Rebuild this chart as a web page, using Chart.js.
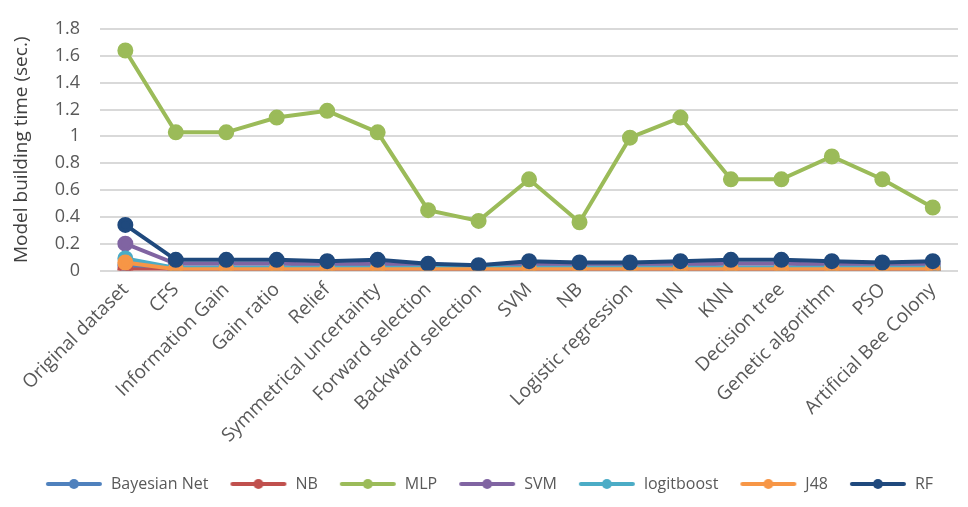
<!DOCTYPE html>
<html>
<head>
<meta charset="utf-8">
<script src="https://cdn.jsdelivr.net/npm/chart.js@4.4.0/dist/chart.umd.min.js"></script>
<style>
  html, body { margin: 0; padding: 0; background: #fff; }
  #wrap { width: 968px; height: 507px; }
</style>
</head>
<body>
<div id="wrap"><canvas id="chart1"></canvas></div>
<script>
const categories = [
  'Original dataset', 'CFS', 'Information Gain', 'Gain ratio', 'Relief',
  'Symmetrical uncertainty', 'Forward selection', 'Backward selection', 'SVM', 'NB',
  'Logistic regression', 'NN', 'KNN', 'Decision tree', 'Genetic algorithm', 'PSO',
  'Artificial Bee Colony'
];

const bayesNet   = [0.04, 0.01, 0.01, 0.01, 0.01, 0.01, 0.01, 0.01, 0.01, 0.01, 0.01, 0.01, 0.01, 0.01, 0.01, 0.01, 0.01];
const nb         = [0.01, 0.005, 0.005, 0.005, 0.005, 0.005, 0.005, 0.005, 0.005, 0.005, 0.005, 0.005, 0.005, 0.005, 0.005, 0.005, 0.005];
const mlp        = [1.64, 1.03, 1.03, 1.14, 1.19, 1.03, 0.45, 0.37, 0.68, 0.36, 0.99, 1.14, 0.68, 0.68, 0.85, 0.68, 0.47];
const svm        = [0.20, 0.05, 0.05, 0.05, 0.045, 0.05, 0.035, 0.03, 0.045, 0.04, 0.04, 0.045, 0.05, 0.05, 0.045, 0.04, 0.045];
const logitboost = [0.09, 0.02, 0.02, 0.02, 0.02, 0.02, 0.02, 0.02, 0.02, 0.02, 0.02, 0.02, 0.02, 0.02, 0.02, 0.02, 0.02];
const j48        = [0.06, 0.01, 0.01, 0.01, 0.01, 0.01, 0.01, 0.01, 0.01, 0.01, 0.01, 0.01, 0.01, 0.01, 0.01, 0.01, 0.01];
const rf         = [0.34, 0.08, 0.08, 0.08, 0.07, 0.08, 0.05, 0.04, 0.07, 0.06, 0.06, 0.07, 0.08, 0.08, 0.07, 0.06, 0.07];

const yTicks = [0, 0.2, 0.4, 0.6, 0.8, 1, 1.2, 1.4, 1.6, 1.8];

const series = [
  { label: 'Bayesian Net', data: bayesNet,   color: '#4f81bd' },
  { label: 'NB',           data: nb,         color: '#c0504d' },
  { label: 'MLP',          data: mlp,        color: '#9bbb59' },
  { label: 'SVM',          data: svm,        color: '#8064a2' },
  { label: 'logitboost',   data: logitboost, color: '#4bacc6' },
  { label: 'J48',          data: j48,        color: '#f79646' },
  { label: 'RF',           data: rf,         color: '#1f497d' }
];

const FONT = "'Open Sans', 'Noto Sans', sans-serif";

// little line-with-dot image for the legend
function legendMark(color) {
  const c = document.createElement('canvas');
  c.width = 58; c.height = 14;
  const g = c.getContext('2d');
  g.strokeStyle = color;
  g.lineWidth = 4;
  g.lineCap = 'round';
  g.beginPath();
  g.moveTo(3, 7); g.lineTo(55, 7);
  g.stroke();
  g.fillStyle = color;
  g.beginPath();
  g.arc(29, 7, 5, 0, Math.PI * 2);
  g.fill();
  return c;
}

const datasets = series.map((s, i) => ({
  label: s.label,
  data: s.data,
  borderColor: s.color,
  backgroundColor: s.color,
  pointBackgroundColor: s.color,
  pointBorderColor: s.color,
  borderWidth: 4,
  pointRadius: 6,
  pointHoverRadius: 6,
  tension: 0,
  order: series.length - 1 - i,
  mark: legendMark(s.color)
}));

const config1 = {
  type: 'line',
  data: { labels: categories, datasets: datasets },
  options: {
    responsive: false,
    animation: false,
    layout: { padding: { top: 4, right: 0, left: 10, bottom: 5 } },
    plugins: {
      legend: {
        position: 'bottom',
        labels: {
          usePointStyle: true,
          pointStyleWidth: 58,
          boxHeight: 14,
          padding: 21,
          color: '#595959',
          font: { family: FONT, size: 16 },
          generateLabels: function(chart) {
            return chart.data.datasets.map((ds, i) => ({
              text: ds.label,
              fillStyle: ds.borderColor,
              strokeStyle: ds.borderColor,
              lineWidth: 0,
              pointStyle: ds.mark,
              hidden: !chart.isDatasetVisible(i),
              datasetIndex: i,
              fontColor: '#595959'
            }));
          }
        }
      },
      tooltip: { enabled: false }
    },
    scales: {
      x: {
        offset: true,
        grid: { display: false, drawTicks: false },
        border: { display: false },
        ticks: {
          color: '#595959',
          font: { family: FONT, size: 19 },
          minRotation: 45,
          maxRotation: 45,
          autoSkip: false,
          padding: 8
        }
      },
      y: {
        min: 0,
        max: 1.8,
        afterBuildTicks: function(axis) {
          axis.ticks = yTicks.map(v => ({ value: v }));
        },
        grid: { color: '#d9d9d9', lineWidth: 2, drawTicks: false },
        border: { display: false },
        ticks: {
          color: '#595959',
          font: { family: FONT, size: 18, lineHeight: 1 },
          padding: 20,
          callback: v => String(Number(v.toFixed(1)))
        },
        title: {
          display: true,
          text: 'Model building time (sec.)',
          color: '#404040',
          font: { family: FONT, size: 19 },
          padding: { top: 0, bottom: 2 }
        }
      }
    }
  }
};

const cv = document.getElementById('chart1');
cv.width = 968;
cv.height = 507;
const chart1 = new Chart(cv, config1);
</script>
</body>
</html>
